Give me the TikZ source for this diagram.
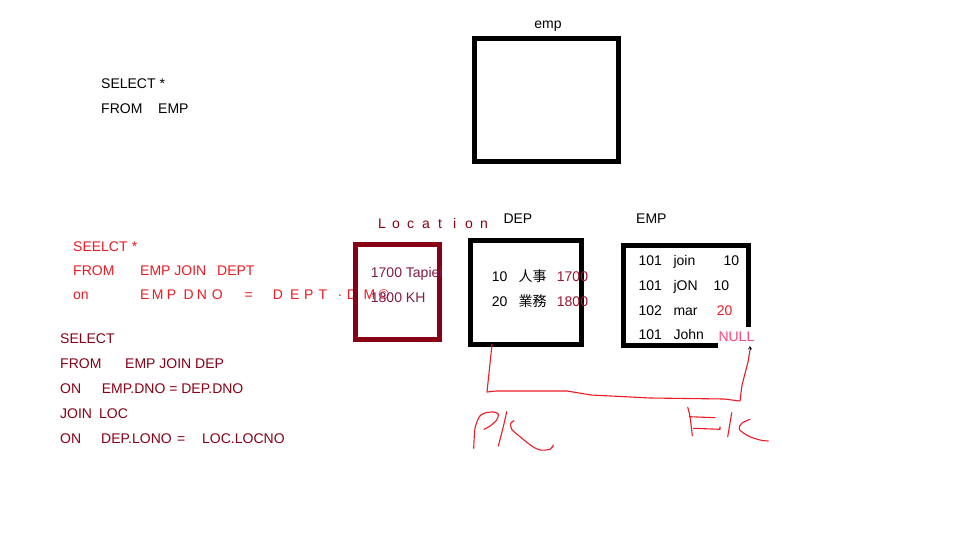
\documentclass[tikz,border=0pt]{standalone}
\usepackage{fontspec}
\setmainfont{Liberation Sans}
\newfontfamily\cjk{Noto Sans CJK TC}
\usetikzlibrary{arrows.meta}
\definecolor{pred}{RGB}{237,28,36}
\definecolor{maroon}{RGB}{136,0,21}
\definecolor{mauve}{RGB}{128,28,72}
\definecolor{dred}{RGB}{160,20,50}
\definecolor{npink}{RGB}{250,70,120}
\begin{document}
\begin{tikzpicture}[x=1pt,y=-1pt,
  txt/.style={anchor=base west, inner sep=0pt, font=\fontsize{14}{16}\selectfont},
  box/.style={draw, line width=5pt, inner sep=0pt},
  hand/.style={pred, line width=1.1pt, line join=round, line cap=round}]
\path[fill=white] (0,0) rectangle (960,540);

% top query
\node[txt] (q1a) at (101,89) {SELECT *};
\node[txt] (q1b) at (101,114) {FROM};
\node[txt] (q1c) at (158,114) {EMP};

% emp box
\node[txt, anchor=base] (emplbl) at (548,29) {emp};
\node[box, minimum width=144.5pt, minimum height=123pt] (empbox) at (546.25,100) {};

% red query
\node[txt, pred] (r1a) at (73,251) {SEELCT};
\node[txt, pred] (r1b) at (131.7,251) {*};
\node[txt, pred] (r2a) at (73,275) {FROM};
\node[txt, pred] (r2b) at (140,275) {EMP JOIN};
\node[txt, pred] (r2c) at (217,275) {DEPT};
\node[txt, pred] (r3a) at (73,299) {on};
\foreach \ch/\xx [count=\i] in {E/140, M/151.7, P/166.7, D/183.3, N/196.7, O/211.7, =/244.3, D/272.7, E/290, P/304, T/318.3, ·/337.3, D/346.7, M/363.3, ©/378.3}
  \node[txt, pred] (rl\i) at (\xx,299) {\ch};

% bottom query
\node[txt, maroon] (b1) at (60,343) {SELECT};
\node[txt, maroon] (b2a) at (60,368) {FROM};
\node[txt, maroon] (b2b) at (125,368) {EMP JOIN DEP};
\node[txt, maroon] (b3a) at (60,393) {ON};
\node[txt, maroon] (b3b) at (101.7,393) {EMP.DNO = DEP.DNO};
\node[txt, maroon] (b4a) at (60,418) {JOIN};
\node[txt, maroon] (b4b) at (99,418) {LOC};
\node[txt, maroon] (b5a) at (60,443) {ON};
\node[txt, maroon] (b5b) at (101,443) {DEP.LONO};
\node[txt, maroon] (b5c) at (177,443) {=};
\node[txt, maroon] (b5d) at (202,443) {LOC.LOCNO};

% Location box
\foreach \ch/\xx [count=\i] in {L/378, o/392, c/407, a/422, t/438, i/453, o/465, n/480}
  \node[txt, maroon] (loc\i) at (\xx,228) {\ch};
\node[box, maroon, minimum width=84pt, minimum height=95pt] (locbox) at (397.8,291.7) {};
\node[txt, mauve] (l1) at (370.7,277) {1700 Tapiei};
\node[txt, mauve] (l2) at (370.7,302) {1800 KH};

% DEP box
\node[txt] (deplbl) at (503.3,223) {DEP};
\node[box, minimum width=111.3pt, minimum height=103.4pt] (depbox) at (525.85,292.5) {};
\node[txt] (d1a) at (491.7,281) {10};
\node[txt] (d1b) at (518.3,281) {\cjk 人事};
\node[txt, dred] (d1c) at (556.7,281) {1700};
\node[txt] (d2a) at (491.7,306) {20};
\node[txt] (d2b) at (518.3,306) {\cjk 業務};
\node[txt, dred] (d2c) at (556.7,306) {1800};

% EMP box (open corner)
\node[txt] (emplbl2) at (636,223) {EMP};
\draw[line width=5pt, line join=miter] (718,345.8) -- (623.5,345.8) -- (623.5,245.2) -- (748.5,245.2) -- (748.5,327);
\node[txt] (e1a) at (638.3,265) {101};
\node[txt] (e1b) at (673.3,265) {join};
\node[txt] (e1c) at (723.3,265) {10};
\node[txt] (e2a) at (638.3,290) {101};
\node[txt] (e2b) at (673.3,290) {jON};
\node[txt] (e2c) at (713.3,290) {10};
\node[txt] (e3a) at (638.3,315) {102};
\node[txt] (e3b) at (673.3,315) {mar};
\node[txt, pred] (e3c) at (716.7,315) {20};
\node[txt] (e4a) at (638.3,339) {101};
\node[txt] (e4b) at (673.3,339) {John};
\node[txt, npink] (e4c) at (718.3,341.7) {NULL};

% PK -> FK connector
\coordinate (pk) at (492,344.5);
\coordinate (fk) at (750,346);
\draw[hand] (pk) -- (487,392) -- (496,391) -- (567,391) -- (591,395) -- (650,398) -- (724,399) -- (740,401) -- (742,385) -- (748,362) -- (750,350);
\draw[-{Straight Barb[length=2.5pt,width=3pt]}, line width=0.8pt] (750,350) -- (fk);

% hand-written PK
\draw[hand] plot[smooth] coordinates {(473.7,448.3) (475,428.3) (479.3,416.7) (482.7,414)};
\draw[hand] plot[smooth] coordinates {(482.7,414) (486,412.7) (493.3,412) (498.3,414) (496.7,420) (490,426) (484,429.3)};
\draw[hand] plot[smooth] coordinates {(506.7,411.7) (503.3,426.7) (498.3,446)};
\draw[hand] plot[smooth] coordinates {(514,420.7) (510.7,423.3) (511.7,429.3) (520,436.7) (531.7,446) (540,450) (550,449.3) (553.3,445)};

% hand-written FK
\draw[hand] plot[smooth] coordinates {(687.7,407.3) (690,416.7) (692.3,435.7)};
\draw[hand] (689.3,416.7) -- (715,417.7);
\draw[hand] (693.3,428.3) -- (720,429.3) -- (720,427);
\draw[hand] (731.7,412.7) -- (727.7,436.7);
\draw[hand] plot[smooth] coordinates {(750,419.3) (741.7,423.3) (739.3,429.3) (748.3,436) (760,440) (768.3,441)};
\end{tikzpicture}
\end{document}
